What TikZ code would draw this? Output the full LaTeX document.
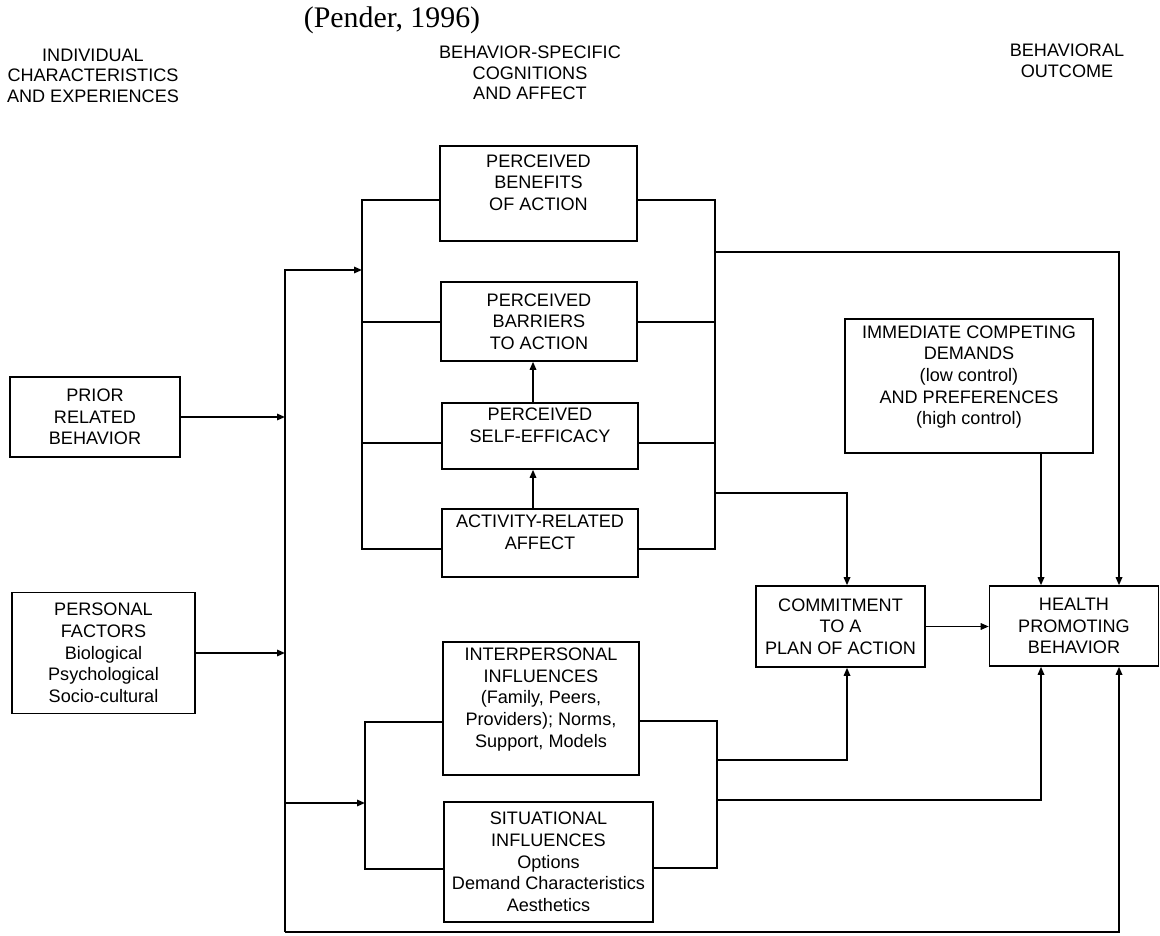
\documentclass[tikz,border=0pt]{standalone}
\usepackage{fontspec}
\setmainfont{Liberation Sans}
\newfontfamily\titlefont{Liberation Serif}
\usetikzlibrary{arrows.meta}
\tikzset{
  box/.style={draw, line width=0.9pt, align=center, inner sep=1pt,
    font=\fontsize{10.3}{12.35}\selectfont},
  hdr/.style={align=center, font=\fontsize{10.3}{11.7}\selectfont},
  wire/.style={line width=0.9pt},
  arr/.style={wire, -{Triangle[length=1.6mm,width=1.3mm]}},
}

\begin{document}
\begin{tikzpicture}[x=0.02cm, y=-0.02cm]
    \useasboundingbox (0,0) rectangle (1160,936);

    \node[font=\titlefont\fontsize{17}{20}\selectfont] (title) at (392,20) {(Pender, 1996)};
    \node[hdr] (hind) at (93,75.5) {INDIVIDUAL\\CHARACTERISTICS\\AND EXPERIENCES};
    \node[hdr] (hcog) at (530,73) {BEHAVIOR-SPECIFIC\\COGNITIONS\\AND AFFECT};
    \node[hdr] (hout) at (1067,60.5) {BEHAVIORAL\\OUTCOME};

    \node[box, minimum width=3.4cm, minimum height=1.6cm] (prior) at (95,417) {PRIOR\\RELATED\\BEHAVIOR};
    \node[box, minimum width=3.66cm, minimum height=2.42cm] (pers) at (103.5,653) {PERSONAL\\FACTORS\\Biological\\Psychological\\Socio-cultural};

    \node[box, minimum width=3.94cm, minimum height=1.9cm] (ben) at (538.5,193.5) {PERCEIVED\\BENEFITS\\OF ACTION\\\mbox{}};
    \node[box, minimum width=3.92cm, minimum height=1.58cm] (bar) at (539,321.5) {PERCEIVED\\BARRIERS\\TO ACTION};
    \node[box, minimum width=3.92cm, minimum height=1.32cm] (eff) at (540,436) {PERCEIVED\\SELF-EFFICACY\\\mbox{}};
    \node[box, minimum width=3.92cm, minimum height=1.36cm] (act) at (540,543) {ACTIVITY-RELATED\\AFFECT\\\mbox{}};
    \node[box, minimum width=3.92cm, minimum height=2.66cm] (inter) at (541,708.5) {INTERPERSONAL\\INFLUENCES\\(Family, Peers,\\Providers); Norms,\\Support, Models\\\mbox{}};
    \node[box, minimum width=4.18cm, minimum height=2.4cm] (sit) at (548.5,862) {SITUATIONAL\\INFLUENCES\\Options\\Demand Characteristics\\Aesthetics};

    \node[box, minimum width=4.96cm, minimum height=2.68cm] (imm) at (969,386) {IMMEDIATE COMPETING\\DEMANDS\\(low control)\\AND PREFERENCES\\(high control)\\\mbox{}};
    \node[box, minimum width=3.38cm, minimum height=1.62cm] (com) at (840.5,626.5) {COMMITMENT\\TO A\\PLAN OF ACTION};
    \node[box, minimum width=3.38cm, minimum height=1.6cm] (hpb) at (1074,626) {HEALTH\\PROMOTING\\BEHAVIOR};

    \coordinate (ob1) at (285,270);
    \coordinate (ob2) at (285,803);
    \coordinate (ob3) at (285,932);
    \coordinate (lb0) at (362,200);
    \coordinate (lb2) at (362,322);
    \coordinate (lb3) at (362,443);
    \coordinate (lb4) at (362,549);
    \coordinate (rb0) at (715,200);
    \coordinate (rb1) at (715,252);
    \coordinate (rb2) at (715,322);
    \coordinate (rb3) at (715,443);
    \coordinate (rb4) at (715,493);
    \coordinate (rb5) at (715,549);
    \coordinate (ll1) at (365,722);
    \coordinate (ll2) at (365,803);
    \coordinate (ll3) at (365,869);
    \coordinate (lr1) at (717,721);
    \coordinate (lr2) at (717,760);
    \coordinate (lr3) at (717,800);
    \coordinate (lr4) at (717,868);
    \coordinate (ax) at (533,0);
    \coordinate (cx) at (847,0);
    \coordinate (hl) at (1041,0);
    \coordinate (hr) at (1119,0);

    \draw[arr] (prior.east) -- (prior.east -| ob1);
    \draw[arr] (pers.east) -- (pers.east -| ob1);
    \draw[arr] (ob3) -- (ob1) -- (ob1 -| lb0);
    \draw[arr] (ob2) -- (ll2);

    \draw[wire] (ben.west |- lb0) -- (lb0) -- (lb4) -- (act.west |- lb4);
    \draw[wire] (bar.west |- lb2) -- (lb2);
    \draw[wire] (eff.west |- lb3) -- (lb3);
    \draw[wire] (ben.east |- rb0) -- (rb0) -- (rb5) -- (act.east |- rb5);
    \draw[wire] (bar.east |- rb2) -- (rb2);
    \draw[wire] (eff.east |- rb3) -- (rb3);
    \draw[arr] (eff.north -| ax) -- (bar.south -| ax);
    \draw[arr] (act.north -| ax) -- (eff.south -| ax);

    \draw[wire] (inter.west |- ll1) -- (ll1) -- (ll3) -- (sit.west |- ll3);
    \draw[wire] (inter.east |- lr1) -- (lr1) -- (lr4) -- (sit.east |- lr4);

    \draw[arr] (rb1) -| (hr |- hpb.north);
    \draw[arr] (rb4) -| (cx |- com.north);
    \draw[arr] (hl |- imm.south) -- (hl |- hpb.north);
    \draw[arr] (com.east) -- (com.east -| hpb.west);
    \draw[arr] (lr2) -| (cx |- com.south);
    \draw[arr] (lr3) -| (hl |- hpb.south);
    \draw[arr] (ob3) -| (hr |- hpb.south);
\end{tikzpicture}
\end{document}
